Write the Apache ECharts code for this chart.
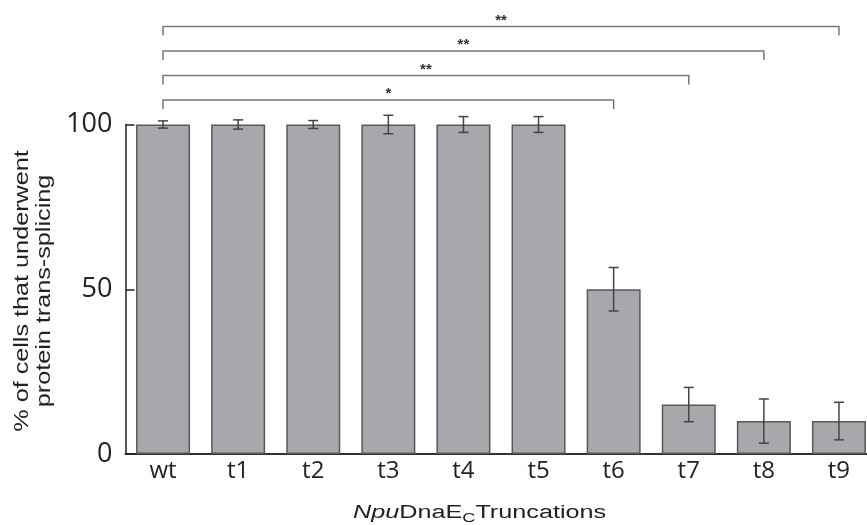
<!DOCTYPE html>
<html>
<head>
<meta charset="utf-8">
<script src="https://cdn.jsdelivr.net/npm/echarts@6/dist/echarts.min.js"></script>
<style>
  html, body { margin: 0; padding: 0; background: #fff; overflow: hidden; }
  /* a bit wider than the window: the last bar runs off the right edge in the figure */
  #chart { width: 880px; height: 525px; }
</style>
</head>
<body>
<div id="chart"></div>
<script>
// data
var categories = ['wt', 't1', 't2', 't3', 't4', 't5', 't6', 't7', 't8', 't9'];
var meanValues = [100, 100, 100, 100, 100, 100, 50, 15, 10, 10];
var errValues  = [1.1, 1.4, 1.2, 2.8, 2.4, 2.4, 6.6, 5.2, 6.7, 5.7];
var yTicks = [0, 50, 100];

// significance brackets (compared against wt)
var bracketFrom = ['wt', 'wt', 'wt', 'wt'];
var bracketTo   = ['t6', 't7', 't8', 't9'];
var bracketRank = [1, 2, 3, 4];
var bracketMark = ['*', '**', '**', '**'];

var myChart = echarts.init(document.getElementById('chart'));

var errData = categories.map(function (c, i) {
    return [i, meanValues[i] - errValues[i], meanValues[i] + errValues[i]];
});
var bracketData = bracketFrom.map(function (f, i) {
    return [categories.indexOf(f), categories.indexOf(bracketTo[i]), bracketRank[i]];
});

var option = {
    animation: false,
    grid: { left: 125.5, top: 124.5, width: 751, bottom: 71, containLabel: false },
    xAxis: {
        type: 'category',
        data: categories,
        axisLine: { lineStyle: { color: '#333', width: 2 } },
        axisTick: { inside: true, length: 7, lineStyle: { color: '#333', width: 1.5 } },
        axisLabel: { fontFamily: 'Open Sans', fontSize: 24, color: '#222', margin: 5 }
    },
    yAxis: {
        type: 'value',
        min: 0, max: 100, interval: 50,
        axisLine: { show: true, lineStyle: { color: '#222', width: 1.5 } },
        axisTick: { show: true, inside: true, length: 9, lineStyle: { color: '#222', width: 1.5 } },
        splitLine: { show: false },
        axisLabel: {
            fontFamily: 'Open Sans', fontSize: 27, color: '#222', margin: 13,
            formatter: function (v) { return yTicks.indexOf(v) >= 0 ? v : ''; }
        }
    },
    graphic: [{
        // y axis title, stretched along its length like the original
        type: 'text',
        x: 33,
        y: 291,
        rotation: Math.PI / 2,
        scaleX: 1.2,
        style: {
            text: '% of cells that underwent\nprotein trans-splicing',
            fontFamily: 'Liberation Sans', fontSize: 21, lineHeight: 22,
            fill: '#222', align: 'center', verticalAlign: 'middle'
        }
    }, {
        // x axis title
        type: 'text',
        x: 353,
        y: 501,
        scaleX: 1.4,
        style: {
            text: '{i|Npu}{n|DnaE}{s|C}{n|Truncations}',
            rich: {
                i: { fontFamily: 'Liberation Sans', fontStyle: 'italic', fontSize: 18, fill: '#222', color: '#222' },
                n: { fontFamily: 'Liberation Sans', fontSize: 18, fill: '#222', color: '#222' },
                s: { fontFamily: 'Liberation Sans', fontSize: 13, fill: '#222', color: '#222', padding: [11, 0, 0, 0] }
            }
        }
    }],
    series: [{
        type: 'bar',
        data: meanValues,
        barWidth: 54,
        itemStyle: { color: '#a7a8ab', borderColor: '#58585b', borderWidth: 1.5 }
    }, {
        type: 'custom',
        data: errData,
        clip: false,
        z: 5,
        renderItem: function (params, api) {
            var lo = api.coord([api.value(0), api.value(1)]);
            var hi = api.coord([api.value(0), api.value(2)]);
            var cap = 5;
            var st = { stroke: '#444', lineWidth: 1.5 };
            return {
                type: 'group',
                children: [
                    { type: 'line', shape: { x1: hi[0], y1: hi[1], x2: lo[0], y2: lo[1] }, style: st },
                    { type: 'line', shape: { x1: hi[0] - cap, y1: hi[1], x2: hi[0] + cap, y2: hi[1] }, style: st },
                    { type: 'line', shape: { x1: lo[0] - cap, y1: lo[1], x2: lo[0] + cap, y2: lo[1] }, style: st }
                ]
            };
        }
    }, {
        type: 'custom',
        data: bracketData,
        clip: false,
        z: 5,
        renderItem: function (params, api) {
            var a = api.coord([api.value(0), 100]);
            var b = api.coord([api.value(1), 100]);
            var y = a[1] - 24.5 * api.value(2);
            var drop = 9;
            return {
                type: 'group',
                children: [{
                    type: 'polyline',
                    shape: { points: [[a[0], y + drop], [a[0], y], [b[0], y], [b[0], y + drop]] },
                    style: { stroke: '#777', lineWidth: 1.5, fill: null }
                }, {
                    type: 'text',
                    x: (a[0] + b[0]) / 2,
                    y: y - 6,
                    style: {
                        text: bracketMark[params.dataIndex],
                        fontFamily: 'Liberation Sans', fontSize: 15, fontWeight: 'bold',
                        fill: '#333', align: 'center', verticalAlign: 'middle'
                    }
                }]
            };
        }
    }]
};
myChart.setOption(option);
</script>
</body>
</html>
